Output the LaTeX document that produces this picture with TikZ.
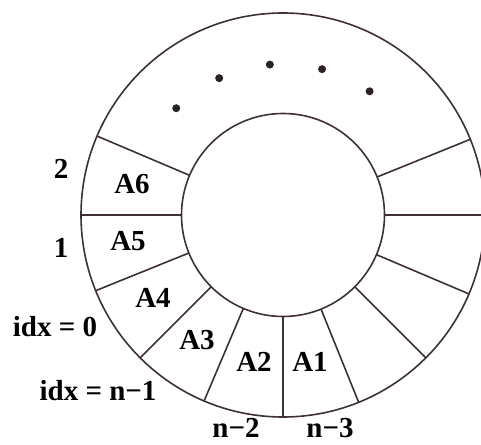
\documentclass[tikz,border=0pt]{standalone}
\usepackage{fontspec}
\setmainfont{Liberation Serif}
\usetikzlibrary{calc}
\begin{document}
\begin{tikzpicture}[x=1pt,y=1pt,
  ring/.style={circle,draw=linec,line width=1.6pt,inner sep=0pt,outer sep=0pt},
  spoke/.style={draw=linec,line width=1.6pt},
  lab/.style={font=\fontsize{29}{32}\selectfont\bfseries,inner sep=0pt},
  dotm/.style={circle,fill=linec!70!black,inner sep=0pt,minimum size=8pt}]
\definecolor{linec}{RGB}{62,48,54}
\useasboundingbox (0,0) rectangle (481,444);
\node[ring,minimum size=404pt] (outer) at (283,229) {};
\node[ring,minimum size=203pt] (inner) at (283,229) {};
\foreach \a in {157.5,180,202.5,225,247.5,270,292.5,315,337.5,0,22.5}
  \draw[spoke] (inner.\a) -- (outer.\a);
\foreach \a/\n in {135/d1,115/d2,95/d3,75/d4,55/d5}
  \node[dotm] (\n) at ($(283,229)+(\a:151)$) {};
\node[lab] (A6) at (132,260) {A6};
\node[lab] (A5) at (128,203) {A5};
\node[lab] (A4) at (153,146) {A4};
\node[lab] (A3) at (197,104) {A3};
\node[lab] (A2) at (254,82) {A2};
\node[lab] (A1) at (310,82) {A1};
\node[lab] (l2) at (61,275) {2};
\node[lab] (l1) at (61,196) {1};
\node[lab] (l0) at (55,117) {idx = 0};
\node[lab] (ln1) at (98,53) {idx = n−1};
\node[lab] (ln2) at (236,16) {n−2};
\node[lab] (ln3) at (330,16) {n−3};
\end{tikzpicture}
\end{document}
